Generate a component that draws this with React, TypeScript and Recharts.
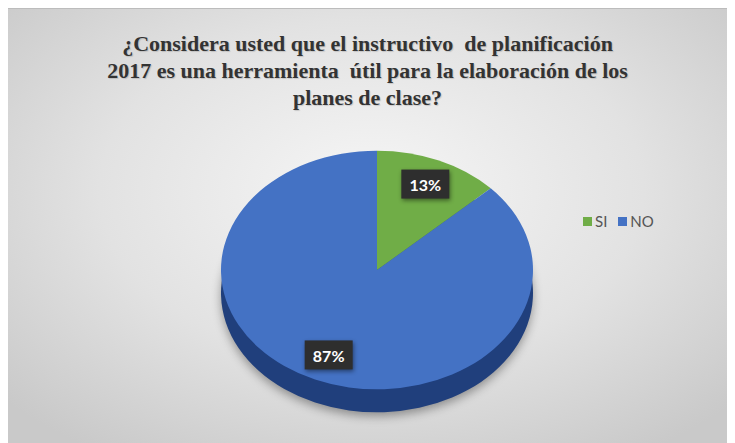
import React from "react";
import { PieChart, Pie, Cell, Legend } from "recharts";

const titleLines = [
  "¿Considera usted que el instructivo  de planificación",
  "2017 es una herramienta  útil para la elaboración de los",
  "planes de clase?",
];
const answers = ["SI", "NO"];
const shares = [13, 87];
const topColors = ["#70ad47", "#4472c4"];
const sideColors = ["#4e7d32", "#203f7c"];

const data = answers.map((name, i) => ({ name, value: shares[i] }));

const W = 727;
const H = 435;
const CX = 364;
const CY = 256;
const R = 156;
const TILT = 0.765; // vertical squash of the 3d pie
const DEPTH = 23;
const RAD = Math.PI / 180;

// elliptical wedge, drawn from the angles recharts hands over
const ellipseSector = (props: any) => {
  const { cx, cy, outerRadius, startAngle, endAngle, fill, shadow } = props;
  const rx = outerRadius;
  const ry = outerRadius * TILT;
  const pt = (a: number) => [cx + rx * Math.cos(a * RAD), cy - ry * Math.sin(a * RAD)];
  const [x1, y1] = pt(startAngle);
  const [x2, y2] = pt(endAngle);
  const sweep = endAngle < startAngle ? 1 : 0;
  const large = Math.abs(endAngle - startAngle) > 180 ? 1 : 0;
  return (
    <path
      d={`M${cx},${cy} L${x1},${y1} A${rx},${ry} 0 ${large} ${sweep} ${x2},${y2} Z`}
      fill={fill}
      style={shadow ? { filter: "drop-shadow(0px 4px 5px rgba(0,0,0,0.35))" } : undefined}
    />
  );
};

const sideShape = (props: any) => ellipseSector({ ...props, shadow: true });

const renderLabel = (props: any) => {
  const { cx, cy, midAngle, outerRadius, value } = props;
  const r = outerRadius * 0.78;
  const x = cx + r * Math.cos(-midAngle * RAD);
  const y = cy + r * TILT * Math.sin(-midAngle * RAD);
  return (
    <g>
      <rect
        x={x - 24}
        y={y - 15}
        width={48}
        height={29}
        fill="#2e2e2e"
        style={{ filter: "drop-shadow(1px 2px 2px rgba(0,0,0,0.45))" }}
      />
      <text
        x={x}
        y={y}
        textAnchor="middle"
        dominantBaseline="central"
        fill="#ffffff"
        fontFamily="Lato, 'Open Sans', sans-serif"
        fontWeight={700}
        fontSize={16}
      >
        {`${value}%`}
      </text>
    </g>
  );
};

const renderLegend = () => (
  <div style={{ display: "flex", alignItems: "center", gap: 11 }}>
    {answers.map((a, i) => (
      <span key={a} style={{ display: "flex", alignItems: "center", gap: 3 }}>
        <span style={{ width: 9, height: 9, background: topColors[i], display: "inline-block" }} />
        <span style={{ color: "#555555" }}>{a}</span>
      </span>
    ))}
  </div>
);

export default function App() {
  return (
    <div
      style={{
        position: "relative",
        width: W,
        height: H,
        background:
          "radial-gradient(ellipse 68% 72% at 50% 42%, #f6f6f6 0%, #e2e2e2 55%, #c9c9c9 100%)",
        borderTop: "1px solid #bcbcbc",
        boxSizing: "border-box",
      }}
    >
      <div
        style={{
          position: "absolute",
          left: -4,
          top: 21,
          width: W,
          textAlign: "center",
          fontFamily: "'Liberation Serif', 'Times New Roman', serif",
          fontWeight: 700,
          fontSize: 22,
          lineHeight: "27px",
          color: "#333333",
          whiteSpace: "pre",
          textShadow: "1px 1px 1px rgba(0,0,0,0.15)",
          zIndex: 2,
        }}
      >
        {titleLines.map((t) => (
          <div key={t}>{t}</div>
        ))}
      </div>
      <PieChart width={W} height={H - 1} style={{ position: "absolute", left: 0, top: 0 }}>
        <Pie
          data={data}
          dataKey="value"
          nameKey="name"
          cx={CX}
          cy={CY + DEPTH}
          outerRadius={R}
          startAngle={90}
          endAngle={-270}
          stroke="none"
          shape={sideShape}
          legendType="none"
          isAnimationActive={false}
        >
          {data.map((d, i) => (
            <Cell key={d.name} fill={sideColors[i]} />
          ))}
        </Pie>
        <Pie
          data={data}
          dataKey="value"
          nameKey="name"
          cx={CX}
          cy={CY}
          outerRadius={R}
          startAngle={90}
          endAngle={-270}
          stroke="none"
          shape={ellipseSector}
          label={renderLabel}
          labelLine={false}
          legendType="square"
          isAnimationActive={false}
        >
          {data.map((d, i) => (
            <Cell key={d.name} fill={topColors[i]} />
          ))}
        </Pie>
        <Legend
          content={renderLegend}
          wrapperStyle={{
            position: "absolute",
            left: 575,
            top: 203,
            width: "auto",
            fontFamily: "Lato, 'Open Sans', sans-serif",
            fontSize: 15,
          }}
        />
      </PieChart>
    </div>
  );
}
